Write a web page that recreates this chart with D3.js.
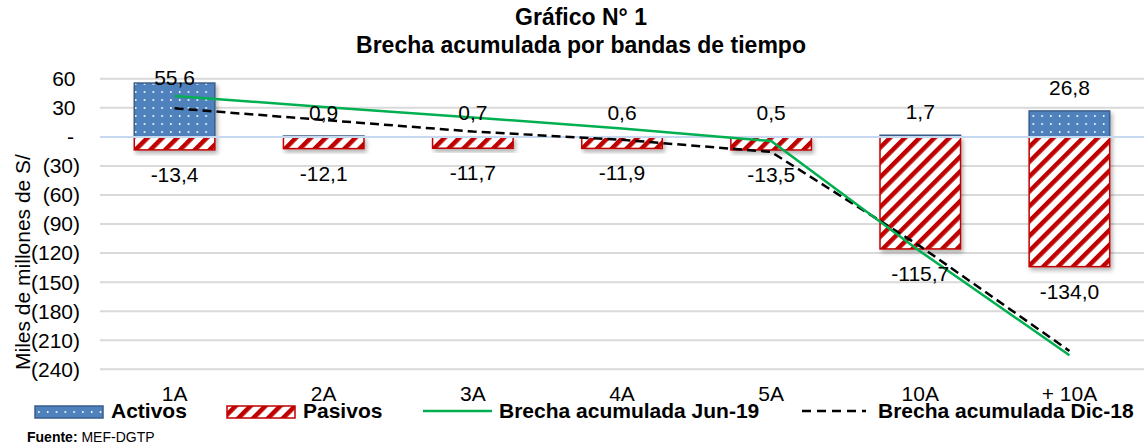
<!DOCTYPE html>
<html>
<head>
<meta charset="utf-8">
<script src="https://cdn.jsdelivr.net/npm/d3@7"></script>
<style>
  body { margin: 0; background: #fff; }
  text { font-family: Arial, "Liberation Sans", sans-serif; fill: #000; }
</style>
</head>
<body>
<script>
(function(){

//chart data
var categories = ["1A", "2A", "3A", "4A", "5A", "10A", "+ 10A"];
var activos = [55.6, 0.9, 0.7, 0.6, 0.5, 1.7, 26.8];
var pasivos = [-13.4, -12.1, -11.7, -11.9, -13.5, -115.7, -134.0];
var brechaJun19 = [42.2, 31.0, 20.0, 8.7, -4.3, -118.3, -225.5];
var brechaDic18 = [29.5, 17.5, 5.5, -3.0, -15.5, -113.0, -221.0];
var yTicks = [60, 30, 0, -30, -60, -90, -120, -150, -180, -210, -240];

//frame
var width = 1144,
    height = 447,
    left = 100,
    right = 1144,
    top = 78.8,
    bottom = 369.3;

var svg = d3.select("body")
    .append("svg")
    .attr("width", width)
    .attr("height", height);

var defs = svg.append("defs");

//dotted blue pattern for activos
var dots = defs.append("pattern")
    .attr("id", "dots")
    .attr("patternUnits", "userSpaceOnUse")
    .attr("width", 8.8)
    .attr("height", 8);
dots.append("rect").attr("width", 8.8).attr("height", 8).attr("fill", "#4f81bd");
dots.append("rect").attr("x", 3).attr("y", 3).attr("width", 1.4).attr("height", 2).attr("fill", "#fff");

//red stripes for pasivos
var stripes = defs.append("pattern")
    .attr("id", "stripes")
    .attr("patternUnits", "userSpaceOnUse")
    .attr("width", 10.5)
    .attr("height", 10.5)
    .attr("patternTransform", "rotate(45)");
stripes.append("rect").attr("width", 10.5).attr("height", 10.5).attr("fill", "#fff");
stripes.append("rect").attr("x", 0).attr("width", 4.5).attr("height", 10.5).attr("fill", "#c00000");

var shadow = defs.append("filter")
    .attr("id", "shadow")
    .attr("x", "-20%").attr("y", "-20%")
    .attr("width", "140%").attr("height", "160%");
shadow.append("feDropShadow")
    .attr("dx", 2).attr("dy", 3)
    .attr("stdDeviation", 2)
    .attr("flood-color", "#000")
    .attr("flood-opacity", 0.3);

//scales
var x = d3.scaleBand()
    .domain(categories)
    .range([left, right])
    .paddingInner(0.46)
    .paddingOuter(0.23);

var y = d3.scaleLinear()
    .domain([-240, 60])
    .range([bottom, top]);

//title
var title = svg.append("text")
    .attr("text-anchor", "middle")
    .style("font-weight", "bold")
    .style("font-size", "23px");
title.append("tspan").attr("x", 581).attr("y", 25).text("Gráfico N° 1");
title.append("tspan").attr("x", 581).attr("y", 53).text("Brecha acumulada por bandas de tiempo");

//gridlines
svg.selectAll(".grid")
    .data(yTicks.filter(function(d){ return d !== 0; }))
    .enter()
    .append("line")
    .attr("class", "grid")
    .attr("x1", left)
    .attr("x2", right)
    .attr("y1", function(d){ return y(d); })
    .attr("y2", function(d){ return y(d); })
    .attr("stroke", "#d9d9d9")
    .attr("stroke-width", 2);

//y axis labels
svg.selectAll(".ytick")
    .data(yTicks)
    .enter()
    .append("text")
    .attr("class", "ytick")
    .attr("text-anchor", "end")
    .attr("x", function(d){ return d < 0 ? 80 : (d === 0 ? 74 : 75.5); })
    .attr("y", function(d){ return y(d); })
    .attr("dy", "0.35em")
    .style("font-size", "21px")
    .text(function(d){
        if (d === 0) return "-";
        if (d < 0) return "(" + (-d) + ")";
        return d;
    });

svg.append("text")
    .attr("transform", "translate(30,262) rotate(-90)")
    .attr("text-anchor", "middle")
    .style("font-size", "21px")
    .text("Miles de millones de S/");

//bars
var bw = x.bandwidth();

svg.selectAll(".activo")
    .data(activos)
    .enter()
    .append("rect")
    .attr("class", "activo")
    .attr("x", function(d, i){ return x(categories[i]); })
    .attr("y", function(d){ return y(d); })
    .attr("width", bw)
    .attr("height", function(d){ return y(0) - y(d); })
    .attr("fill", "url(#dots)")
    .attr("stroke", "#385d8a")
    .attr("stroke-width", 1.5)
    .attr("filter", "url(#shadow)");

svg.selectAll(".pasivo")
    .data(pasivos)
    .enter()
    .append("rect")
    .attr("class", "pasivo")
    .attr("x", function(d, i){ return x(categories[i]); })
    .attr("y", y(0))
    .attr("width", bw)
    .attr("height", function(d){ return y(d) - y(0); })
    .attr("fill", "url(#stripes)")
    .attr("stroke", "#c00000")
    .attr("stroke-width", 1.5)
    .attr("filter", "url(#shadow)");

//zero line
svg.append("line")
    .attr("x1", left)
    .attr("x2", right)
    .attr("y1", y(0))
    .attr("y2", y(0))
    .attr("stroke", "#c6d9f1")
    .attr("stroke-width", 2);

//lines
var line = d3.line()
    .x(function(d, i){ return x(categories[i]) + bw / 2; })
    .y(function(d){ return y(d); });

svg.append("path")
    .datum(brechaDic18)
    .attr("d", line)
    .attr("fill", "none")
    .attr("stroke", "#000")
    .attr("stroke-width", 2.5)
    .attr("stroke-dasharray", "9,5");

svg.append("path")
    .datum(brechaJun19)
    .attr("d", line)
    .attr("fill", "none")
    .attr("stroke", "#00b050")
    .attr("stroke-width", 2.5);

//data labels
function fmt(v){ return v.toFixed(1).replace(".", ","); }

svg.selectAll(".lblA")
    .data(activos)
    .enter()
    .append("text")
    .attr("class", "lblA")
    .attr("text-anchor", "middle")
    .attr("x", function(d, i){ return x(categories[i]) + bw / 2; })
    .attr("y", function(d){ return Math.max(y(d) - 16, 85); })
    .style("font-size", "21px")
    .text(fmt);

svg.selectAll(".lblP")
    .data(pasivos)
    .enter()
    .append("text")
    .attr("class", "lblP")
    .attr("text-anchor", "middle")
    .attr("x", function(d, i){ return x(categories[i]) + bw / 2; })
    .attr("y", function(d){ return y(d) + 32; })
    .style("font-size", "21px")
    .text(fmt);

//category labels
svg.selectAll(".cat")
    .data(categories)
    .enter()
    .append("text")
    .attr("class", "cat")
    .attr("text-anchor", "middle")
    .attr("x", function(d){ return x(d) + bw / 2; })
    .attr("y", 401)
    .style("font-size", "21px")
    .text(function(d){ return d; });

//legend
var legend = svg.append("g");

legend.append("rect")
    .attr("x", 35).attr("y", 406).attr("width", 68).attr("height", 12)
    .attr("fill", "url(#dots)").attr("stroke", "#385d8a").attr("stroke-width", 1.5);
legend.append("text").attr("x", 111).attr("y", 418)
    .style("font-size", "21px").style("font-weight", "bold").text("Activos");

legend.append("rect")
    .attr("x", 227).attr("y", 406).attr("width", 68).attr("height", 12)
    .attr("fill", "url(#stripes)").attr("stroke", "#c00000").attr("stroke-width", 1.5);
legend.append("text").attr("x", 303).attr("y", 418)
    .style("font-size", "21px").style("font-weight", "bold").text("Pasivos");

legend.append("line")
    .attr("x1", 423).attr("x2", 492).attr("y1", 411).attr("y2", 411)
    .attr("stroke", "#00b050").attr("stroke-width", 2.5);
legend.append("text").attr("x", 499).attr("y", 418)
    .style("font-size", "21px").style("font-weight", "bold").text("Brecha acumulada Jun-19");

legend.append("line")
    .attr("x1", 802).attr("x2", 866).attr("y1", 411).attr("y2", 411)
    .attr("stroke", "#000").attr("stroke-width", 2.5).attr("stroke-dasharray", "9,6");
legend.append("text").attr("x", 878).attr("y", 418)
    .style("font-size", "21px").style("font-weight", "bold").text("Brecha acumulada Dic-18");

//source
var src = svg.append("text").attr("x", 27).attr("y", 442).style("font-size", "14px");
src.append("tspan").style("font-weight", "bold").text("Fuente: ");
src.append("tspan").text("MEF-DGTP");

})();
</script>
</body>
</html>
